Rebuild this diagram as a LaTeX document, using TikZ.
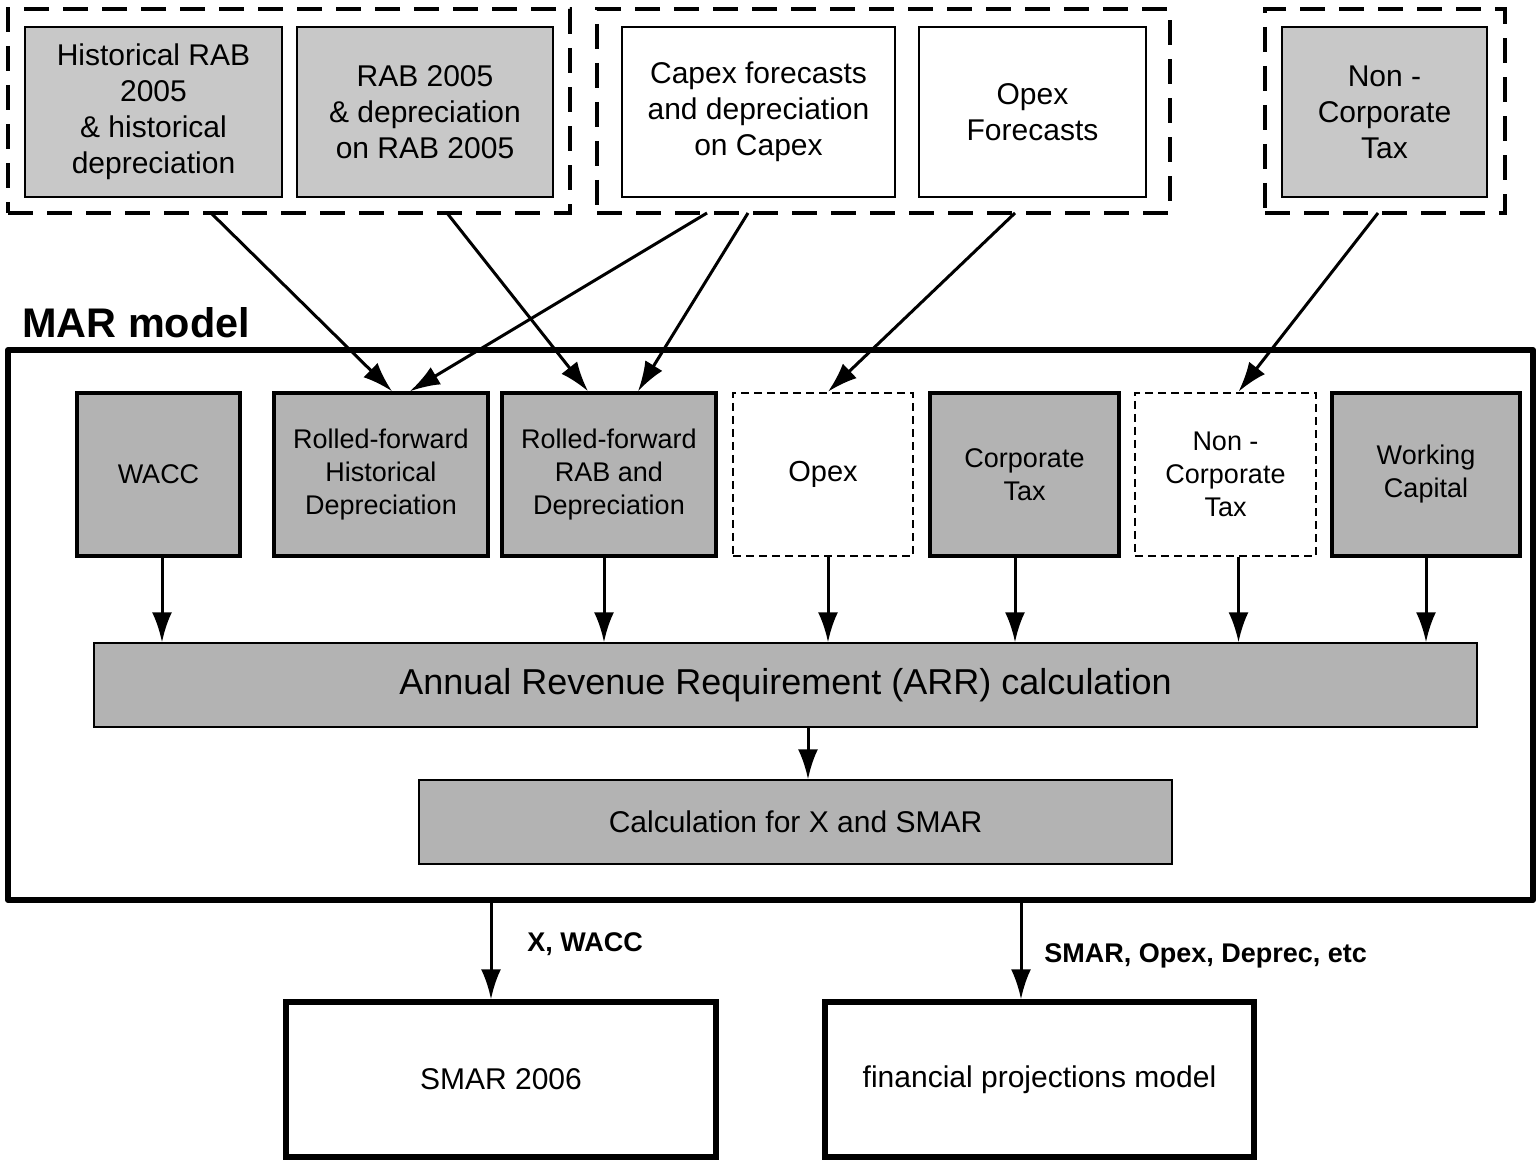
\documentclass[tikz,border=0pt]{standalone}
\usepackage{fontspec}
\setmainfont{Liberation Sans}
\usetikzlibrary{arrows.meta,calc}
\definecolor{lgray}{RGB}{200,200,200}
\definecolor{mgray}{RGB}{179,179,179}
\begin{document}
\begin{tikzpicture}[x=0.5pt,y=-0.5pt,
  topbox/.style={draw, line width=0.7pt, fill=lgray, inner sep=0pt, align=center, minimum height=85pt, font=\fontsize{15}{18}\selectfont},
  topwhite/.style={topbox, fill=white},
  grp/.style={draw, line width=2pt, dash pattern=on 12.5pt off 7pt, inner sep=0pt, minimum height=102pt},
  inbox/.style={draw, line width=1.75pt, fill=mgray, inner sep=0pt, align=center, minimum height=81.5pt, font=\fontsize{13.5}{16.5}\selectfont},
  indash/.style={inbox, fill=white, line width=1.3pt, dash pattern=on 4pt off 2.5pt},
  calcbox/.style={draw, line width=0.75pt, fill=mgray, inner sep=0pt, align=center, minimum height=42pt},
  outbox/.style={draw, line width=2.75pt, inner sep=0pt, align=center, minimum height=77.5pt, font=\fontsize{15}{18}\selectfont},
  frame/.style={draw, line width=3pt, inner sep=0pt, line join=round},
  arr/.style={line width=1.5pt, -{Latex[length=15pt,width=10pt]}},
  lbl/.style={font=\bfseries\fontsize{13.5}{16}\selectfont, inner sep=0pt}
]
\useasboundingbox (0,0) rectangle (1537,1160);

% top input groups
\node[grp, minimum width=281pt] (g1) at (289,111) {};
\node[topbox, minimum width=128.5pt] (hist) at (153.5,112) {Historical RAB\\2005\\\& historical\\depreciation};
\node[topbox, minimum width=128pt] (rab) at (425,112) {RAB 2005\\\& depreciation\\on RAB 2005};
\node[grp, minimum width=286.5pt] (g2) at (883.5,111) {};
\node[topwhite, minimum width=136.5pt] (capex) at (758.5,112) {Capex forecasts\\and depreciation\\on Capex};
\node[topwhite, minimum width=113.5pt] (opexf) at (1032.5,112) {Opex\\Forecasts};
\node[grp, minimum width=120pt] (g3) at (1385,111) {};
\node[topbox, minimum width=102.5pt] (nct) at (1384.5,112) {Non -\\Corporate\\Tax};

% MAR model frame
\node[anchor=base west, inner sep=0pt, font=\bfseries\fontsize{20.7}{24}\selectfont] (mar) at (22,338) {MAR model};
\node[frame, minimum width=762.5pt, minimum height=275pt] (main) at (770.5,625) {};

% inner boxes
\node[inbox, minimum width=81.5pt] (wacc) at (158.5,474.5) {WACC};
\node[inbox, minimum width=107pt] (rfh) at (381,474.5) {Rolled-forward\\Historical\\Depreciation};
\node[inbox, minimum width=107pt] (rfr) at (609,474.5) {Rolled-forward\\RAB and\\Depreciation};
\node[indash, minimum width=90pt, font=\fontsize{14.5}{17}\selectfont] (opex) at (823,474.5) {Opex};
\node[inbox, minimum width=94.5pt] (ct) at (1024.5,474.5) {Corporate\\Tax};
\node[indash, minimum width=90.5pt] (nci) at (1225.5,474.5) {Non -\\Corporate\\Tax};
\node[inbox, minimum width=94pt] (wc) at (1426,474.5) {Working\\Capital};

\node[calcbox, minimum width=691.5pt, font=\fontsize{18}{21}\selectfont] (arrbox) at (785.5,685) {Annual Revenue Requirement (ARR) calculation};
\node[calcbox, minimum width=376.5pt, font=\fontsize{15}{18}\selectfont] (calc) at (795.5,822) {Calculation for X and SMAR};

% outputs
\node[outbox, minimum width=215pt] (smar) at (501,1079.5) {SMAR 2006};
\node[outbox, minimum width=214.5pt] (fin) at (1039.5,1079.5) {financial projections model};

% arrows from inputs
\coordinate (s1) at (211,213);
\coordinate (s2) at (447,213);
\coordinate (s3) at (707,213);
\coordinate (s4) at (748,213);
\coordinate (s5) at (1015,213);
\coordinate (s6) at (1378,213);
\draw[arr] (s1) -- ($(rfh.north)+(11,0)$);
\draw[arr] (s3) -- ($(rfh.north)+(29,0)$);
\draw[arr] (s2) -- ($(rfr.north)+(-21,0)$);
\draw[arr] (s4) -- ($(rfr.north)+(29,0)$);
\draw[arr] (s5) -- ($(opex.north)+(5,0)$);
\draw[arr] (s6) -- ($(nci.north)+(13,0)$);

% arrows to ARR
\coordinate (d1) at ($(wacc.south)+(3.5,0)$);
\coordinate (d2) at ($(rfr.south)+(-5,0)$);
\coordinate (d3) at ($(opex.south)+(5,0)$);
\coordinate (d4) at ($(ct.south)+(-9.5,0)$);
\coordinate (d5) at ($(nci.south)+(13,0)$);
\coordinate (d6) at (wc.south);
\foreach \c in {d1,d2,d3,d4,d5,d6}{
  \draw[arr] (\c) -- (\c |- arrbox.north);
}

% ARR to calc
\coordinate (a1) at ($(arrbox.south)+(22.5,0)$);
\draw[arr] (a1) -- (a1 |- calc.north);

% outputs
\coordinate (b1) at ($(main.south)+(-279.5,0)$);
\coordinate (b2) at ($(main.south)+(250.5,0)$);
\draw[arr] (b1) -- (b1 |- smar.north);
\draw[arr] (b2) -- (b2 |- fin.north);
\node[lbl, anchor=west] (l1) at (527,944) {X, WACC};
\node[lbl, anchor=west] (l2) at (1044,956) {SMAR, Opex, Deprec, etc};
\end{tikzpicture}
\end{document}
